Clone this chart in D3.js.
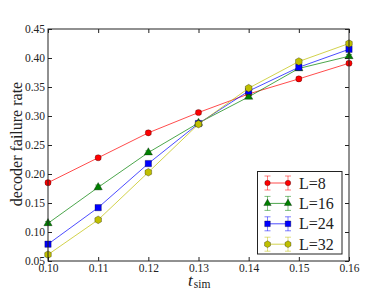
<!DOCTYPE html>
<html><head><meta charset="utf-8">
<script src="https://cdn.jsdelivr.net/npm/d3@7/dist/d3.min.js"></script>
<style>body{margin:0;background:#fff}svg{display:block}</style>
</head><body><svg id="c" width="388" height="291"></svg>
<script>
const tsim = [0.10, 0.11, 0.12, 0.13, 0.14, 0.15, 0.16];
const L8  = [0.185, 0.228, 0.271, 0.306, 0.338, 0.364, 0.391];
const L16 = [0.115, 0.177, 0.237, 0.288, 0.333, 0.382, 0.403];
const L24 = [0.079, 0.142, 0.218, 0.287, 0.343, 0.384, 0.415];
const L32 = [0.061, 0.121, 0.203, 0.286, 0.348, 0.394, 0.425];
const err8  = [0.003, 0.003, 0.003, 0.003, 0.003, 0.003, 0.003];
const err16 = [0.003, 0.004, 0.003, 0.003, 0.003, 0.003, 0.003];
const err24 = [0.003, 0.003, 0.003, 0.003, 0.003, 0.003, 0.003];
const err32 = [0.003, 0.003, 0.003, 0.003, 0.003, 0.003, 0.003];
const seriesNames = ["L=8", "L=16", "L=24", "L=32"];
const xTicks = [0.10, 0.11, 0.12, 0.13, 0.14, 0.15, 0.16];
const yTicks = [0.05, 0.10, 0.15, 0.20, 0.25, 0.30, 0.35, 0.40, 0.45];

const colors = ["#ff0000", "#008000", "#0000ff", "#bfbf00"];
const hexagon = {draw(ctx, size){const r=Math.sqrt(size/2.598);for(let i=0;i<6;i++){const a=Math.PI/6+i*Math.PI/3;const px=r*Math.cos(a),py=r*Math.sin(a);if(i===0)ctx.moveTo(px,py);else ctx.lineTo(px,py);}ctx.closePath();}};
const symbols = [d3.symbolCircle, d3.symbolTriangle, d3.symbolSquare, hexagon];
const symSizes = [30, 30, 40, 38];
const series = [L8, L16, L24, L32].map((v, i) => ({name: seriesNames[i], values: v, err: [err8, err16, err24, err32][i], color: colors[i], sym: symbols[i], size: symSizes[i]}));

const svg = d3.select("#c");
const m = {l: 48, r: 349, t: 29, b: 261};
const x = d3.scaleLinear().domain([0.10, 0.16]).range([m.l, m.r]);
const y = d3.scaleLinear().domain([0.05, 0.45]).range([m.b, m.t]);
const font = "'Liberation Serif', 'DejaVu Serif', serif";

// series
series.forEach(s => {
  const g = svg.append("g");
  const line = d3.line().x((d, i) => x(tsim[i])).y(d => y(d));
  g.append("path").datum(s.values).attr("d", line).attr("fill", "none")
    .attr("stroke", s.color).attr("stroke-opacity", 0.7).attr("stroke-width", 1);
  s.values.forEach((v, i) => {
    const cx = x(tsim[i]), e = s.err[i];
    g.append("line").attr("x1", cx).attr("x2", cx).attr("y1", y(v - e)).attr("y2", y(v + e))
      .attr("stroke", s.color).attr("stroke-opacity", 0.5);
    [v - e, v + e].forEach(c => g.append("line").attr("x1", cx - 3).attr("x2", cx + 3).attr("y1", y(c)).attr("y2", y(c))
      .attr("stroke", s.color).attr("stroke-opacity", 0.5));
    g.append("path").attr("d", d3.symbol(s.sym, s.size)()).attr("transform", `translate(${cx},${y(v)})`)
      .attr("fill", s.color).attr("stroke", "#000").attr("stroke-width", 0.5).attr("stroke-opacity", 0.6);
  });
});

// frame
svg.append("rect").attr("x", m.l).attr("y", m.t).attr("width", m.r - m.l).attr("height", m.b - m.t)
  .attr("fill", "none").attr("stroke", "#222").attr("stroke-width", 1);

// ticks inward
const xb = d3.axisBottom(x).tickValues(xTicks).tickFormat(d3.format(".2f")).tickSizeInner(-4).tickSizeOuter(0).tickPadding(3);
const xt = d3.axisTop(x).tickValues(xTicks).tickFormat("").tickSizeInner(-4).tickSizeOuter(0);
const yl = d3.axisLeft(y).tickValues(yTicks).tickFormat(d3.format(".2f")).tickSizeInner(-4).tickSizeOuter(0).tickPadding(3);
const yr = d3.axisRight(y).tickValues(yTicks).tickFormat("").tickSizeInner(-4).tickSizeOuter(0);
[[xb, `translate(0,${m.b})`], [xt, `translate(0,${m.t})`], [yl, `translate(${m.l},0)`], [yr, `translate(${m.r},0)`]].forEach(([ax, tr]) => {
  const g = svg.append("g").attr("transform", tr).call(ax);
  g.select(".domain").remove();
  g.selectAll("line").attr("stroke", "#222");
  g.selectAll("text").attr("font-family", font).attr("font-size", 11.5).attr("fill", "#222");
});

// labels
svg.append("text").attr("transform", `translate(22,144) rotate(-90)`).attr("text-anchor", "middle")
  .attr("font-family", font).attr("font-size", 16).attr("fill", "#222").text("decoder failure rate");
const xl = svg.append("text").attr("x", 188).attr("y", 285.5).attr("text-anchor", "start")
  .attr("font-family", font).attr("fill", "#222");
xl.append("tspan").attr("font-style", "italic").attr("font-size", 17).text("t");
xl.append("tspan").attr("font-size", 11.5).attr("dx", 1).attr("dy", 2).text("sim");

// legend
const lg = svg.append("g");
lg.append("rect").attr("x", 257.5).attr("y", 171.5).attr("width", 84.5).attr("height", 82.5)
  .attr("fill", "#fff").attr("stroke", "#222").attr("stroke-width", 1);
series.forEach((s, i) => {
  const ly = 183 + i * 20.4;
  const x1 = 267.5, x2 = 288;
  lg.append("line").attr("x1", x1).attr("x2", x2).attr("y1", ly).attr("y2", ly)
    .attr("stroke", s.color).attr("stroke-opacity", 0.7);
  [x1, x2].forEach(cx => {
    lg.append("line").attr("x1", cx).attr("x2", cx).attr("y1", ly - 7).attr("y2", ly + 7)
      .attr("stroke", s.color).attr("stroke-opacity", 0.5);
    [ly - 7, ly + 7].forEach(c => lg.append("line").attr("x1", cx - 3).attr("x2", cx + 3).attr("y1", c).attr("y2", c)
      .attr("stroke", s.color).attr("stroke-opacity", 0.5));
    lg.append("path").attr("d", d3.symbol(s.sym, s.size * 0.8)()).attr("transform", `translate(${cx},${ly})`)
      .attr("fill", s.color).attr("stroke", "#000").attr("stroke-width", 0.5).attr("stroke-opacity", 0.6);
  });
  lg.append("text").attr("x", 299).attr("y", ly + 5.5).attr("font-family", font).attr("font-size", 16)
    .attr("fill", "#222").text(s.name);
});
</script></body></html>
